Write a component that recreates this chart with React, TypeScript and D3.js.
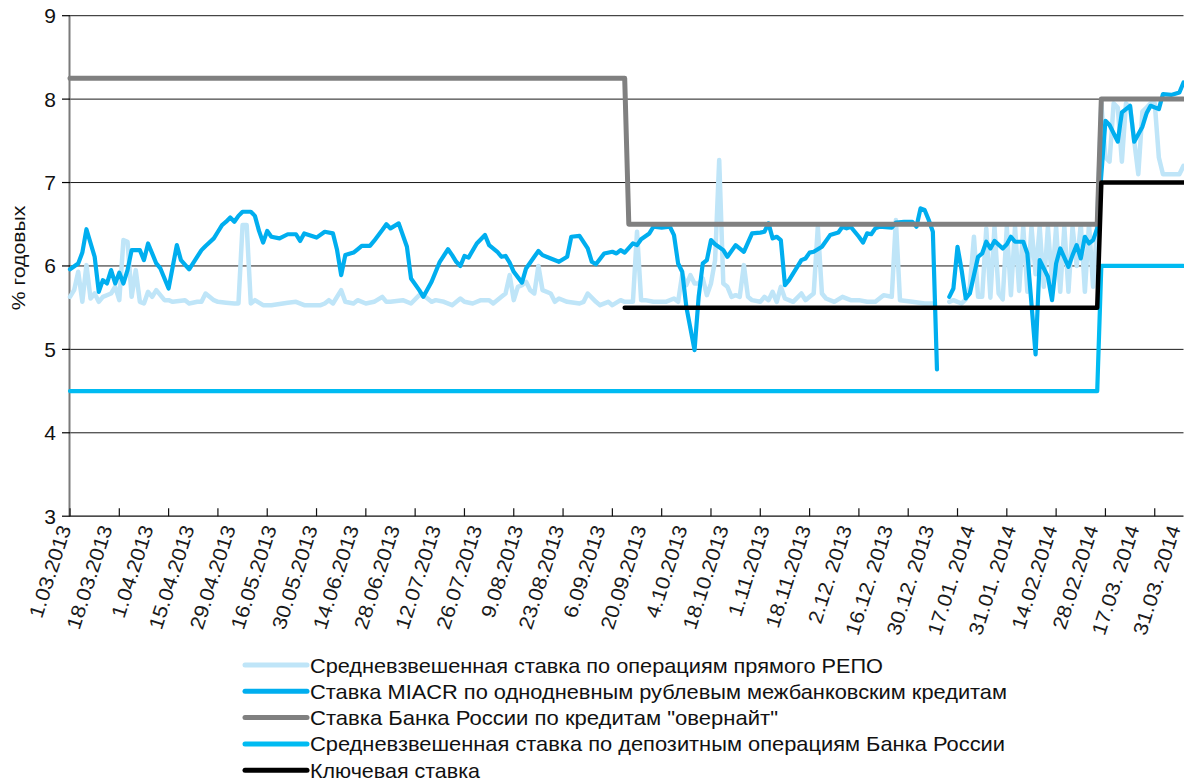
import React from "react";
import * as d3 from "d3";

const W = 1184;
const H = 782;

const xLabels = [
  "1.03.2013", "18.03.2013", "1.04.2013", "15.04.2013", "29.04.2013", "16.05.2013",
  "30.05.2013", "14.06.2013", "28.06.2013", "12.07.2013", "26.07.2013", "9.08.2013",
  "23.08.2013", "6.09.2013", "20.09.2013", "4.10.2013", "18.10.2013", "1.11.2013",
  "18.11.2013", "2.12. 2013", "16.12. 2013", "30.12. 2013", "17.01. 2014", "31.01. 2014",
  "14.02.2014", "28.02.2014", "17.03. 2014", "31.03. 2014",
];
const LABEL_STEP = 10;
const TICK_STEP = 12;
const N_CATS = 272;
const yTickValues = [3, 4, 5, 6, 7, 8, 9];

// Средневзвешенная ставка по операциям прямого РЕПО (business-day index, value)
const repoIdx = [
  0, 1, 2, 3, 4, 5, 6, 7, 8, 10, 11, 12, 13, 14, 15, 16, 17, 18, 19, 20, 21, 23, 24, 25, 28, 29, 31, 32, 33, 35,
  36, 38, 40, 41, 42, 43, 44, 45, 47, 49, 53, 55, 57, 61, 62, 63, 64, 66, 67, 69, 70, 72, 74, 76, 77, 78, 81, 83,
  85, 86, 88, 89, 91, 93, 95, 96, 98, 100, 102, 103, 105, 106, 107, 108, 109, 110, 111, 112, 113, 114, 115, 117,
  118, 119, 121, 124, 125, 126, 128, 129, 131, 132, 134, 135, 137, 138, 139, 140, 142, 145, 147, 148, 149, 150,
  151, 152, 153, 154, 155, 156, 157, 158, 159, 160, 161, 162, 163, 164, 165, 166, 168, 169, 170, 171, 172, 173,
  174, 175, 176, 178, 179, 180, 181, 182, 183, 184, 186, 188, 190, 192, 194, 196, 198, 200, 201, 202, 205, 208,
  210, 212, 214, 215, 216, 217, 218, 219, 220, 221, 222, 223, 224, 225, 226, 227, 228, 229, 230, 231, 232, 233,
  234, 235, 236, 237, 238, 239, 240, 241, 242, 243, 244, 245, 246, 247, 248, 249, 250, 251, 252, 253, 254, 255,
  256, 257, 258, 259, 260, 261, 262, 263, 264, 265, 266, 267, 268, 269, 270, 271,
];
const repoVal = [
  5.63, 5.71, 5.93, 5.57, 6.01, 5.61, 5.67, 5.57, 5.63, 5.67, 5.75, 5.59, 6.31, 6.29, 5.63, 5.95, 5.57, 5.55, 5.69,
  5.63, 5.71, 5.59, 5.59, 5.57, 5.59, 5.55, 5.57, 5.57, 5.67, 5.59, 5.57, 5.56, 5.55, 5.55, 6.49, 6.49, 5.55, 5.59,
  5.53, 5.53, 5.56, 5.57, 5.53, 5.53, 5.55, 5.59, 5.55, 5.71, 5.57, 5.55, 5.59, 5.55, 5.57, 5.63, 5.57, 5.57, 5.59,
  5.55, 5.65, 5.65, 5.57, 5.59, 5.57, 5.53, 5.61, 5.57, 5.55, 5.59, 5.59, 5.55, 5.63, 5.67, 5.89, 5.59, 5.75, 5.77,
  5.81, 5.71, 5.67, 6.0, 5.71, 5.67, 5.57, 5.61, 5.57, 5.55, 5.57, 5.67, 5.57, 5.53, 5.57, 5.53, 5.59, 5.57, 5.57,
  6.41, 5.59, 5.59, 5.57, 5.57, 5.61, 5.57, 5.9, 5.77, 5.89, 5.79, 5.79, 5.85, 5.65, 5.79, 6.07, 7.27, 5.79, 5.75,
  5.63, 5.65, 5.63, 6.01, 5.63, 5.59, 5.57, 5.63, 5.59, 5.69, 5.57, 5.75, 5.61, 5.59, 5.57, 5.67, 5.59, 5.63, 5.67,
  6.47, 5.67, 5.61, 5.57, 5.63, 5.59, 5.59, 5.57, 5.57, 5.65, 5.63, 6.55, 5.59, 5.57, 5.55, 5.55, null, 5.57, 5.59,
  5.57, 5.55, 5.6, 5.75, 6.35, 5.63, 5.63, 6.45, 5.62, 6.47, 5.67, 5.6, 6.47, 5.65, 6.47, 5.7, 6.47, 5.69, 6.47,
  5.9, 6.47, 5.75, 6.47, 5.8, 6.47, 5.69, 6.47, 5.69, 6.47, 6.0, 6.5, 5.69, 6.5, 5.75, 6.5, 7.95, 7.3, 7.25, 7.95,
  7.9, 7.25, 7.95, 7.9, 7.5, 7.1, 7.85, 7.9, 7.95, 7.95, 7.3, 7.1, 7.1, 7.1, 7.1, 7.1, 7.2,
];

// Ставка MIACR по однодневным рублевым межбанковским кредитам
const miacrIdx = [
  0, 2, 3, 4, 6, 7, 8, 9, 10, 11, 12, 13, 14, 15, 17, 18, 19, 21, 22, 24, 26, 27, 29, 32, 33, 35, 36, 37, 38, 39,
  40, 41, 42, 44, 45, 46, 47, 48, 49, 51, 53, 55, 56, 57, 60, 62, 64, 65, 66, 67, 69, 70, 71, 73, 74, 76, 77, 78,
  80, 82, 83, 85, 86, 88, 90, 92, 93, 94, 95, 96, 97, 99, 101, 102, 104, 105, 106, 107, 108, 110, 111, 113, 114,
  115, 117, 119, 121, 122, 124, 126, 127, 128, 130, 132, 133, 134, 135, 137, 138, 139, 141, 142, 144, 146, 147,
  148, 149, 150, 152, 153, 154, 155, 156, 157, 159, 160, 162, 164, 166, 168, 169, 170, 171, 172, 173, 174, 175,
  178, 179, 180, 181, 183, 185, 187, 188, 189, 190, 192, 193, 194, 195, 196, 197, 200, 201, 203, 205, 206, 207,
  208, 209, 210, 211, 212, 214, 215, 216, 217, 218, 219, 221, 222, 223, 224, 225, 227, 228, 229, 230, 232, 233,
  235, 236, 238, 239, 240, 241, 243, 244, 245, 246, 247, 248, 249, 250, 252, 253, 255, 256, 257, 258, 259, 261,
  262, 263, 265, 266, 268, 270, 271,
];
const miacrVal = [
  5.96, 6.03, 6.16, 6.44, 6.11, 5.69, 5.83, 5.79, 5.95, 5.79, 5.92, 5.79, 5.95, 6.19, 6.19, 6.07, 6.27, 6.03, 5.97,
  5.73, 6.25, 6.07, 5.96, 6.19, 6.24, 6.33, 6.41, 6.49, 6.53, 6.58, 6.53, 6.6, 6.65, 6.65, 6.6, 6.42, 6.28, 6.42,
  6.35, 6.33, 6.38, 6.38, 6.3, 6.39, 6.34, 6.41, 6.39, 6.19, 5.89, 6.13, 6.16, 6.2, 6.24, 6.24, 6.3, 6.43, 6.5,
  6.45, 6.51, 6.23, 5.85, 5.71, 5.63, 5.81, 6.05, 6.2, 6.13, 6.05, 6.0, 6.12, 6.1, 6.27, 6.37, 6.25, 6.17, 6.11,
  6.12, 6.04, 5.93, 5.8, 5.97, 6.11, 6.18, 6.13, 6.09, 6.05, 6.11, 6.35, 6.36, 6.21, 6.05, 6.02, 6.15, 6.17, 6.15,
  6.19, 6.16, 6.27, 6.25, 6.32, 6.39, 6.47, 6.46, 6.47, 6.37, 6.03, 5.93, 5.51, 4.99, 5.63, 6.03, 6.07, 6.31, 6.26,
  6.19, 6.11, 6.25, 6.17, 6.39, 6.4, 6.41, 6.51, 6.33, 6.35, 6.31, 5.77, 5.83, 6.07, 6.09, 6.16, 6.17, 6.23, 6.37,
  6.4, 6.47, 6.45, 6.47, 6.35, 6.28, 6.39, 6.38, 6.45, 6.47, 6.46, 6.52, 6.53, 6.53, 6.47, 6.69, 6.67, 6.55, 6.41,
  4.76, null, 5.63, 5.73, 6.23, 5.95, 5.61, 5.67, 6.11, 6.15, 6.29, 6.21, 6.3, 6.21, 6.26, 6.35, 6.29, 6.29, 6.15,
  4.94, 6.07, 5.87, 5.59, 6.03, 6.21, 5.99, 6.13, 6.25, 6.09, 6.35, 6.27, 6.31, 6.45, 7.74, 7.69, 7.49, 7.84, 7.88,
  7.92, 7.49, 7.67, 7.83, 7.92, 7.88, 8.06, 8.05, 8.08, 8.2,
];

// Ставка Банка России по кредитам "овернайт"
const overnightIdx = [0, 135, 136, 250, 251, 271];
const overnightVal = [8.25, 8.25, 6.5, 6.5, 8.0, 8.0];

// Средневзвешенная ставка по депозитным операциям Банка России
const depositIdx = [0, 250, 251, 271];
const depositVal = [4.5, 4.5, 6.0, 6.0];

// Ключевая ставка
const keyIdx = [135, 250, 251, 271];
const keyVal = [5.5, 5.5, 7.0, 7.0];

type Pt = [number, number | null];
const zip = (a: number[], b: (number | null)[]): Pt[] => a.map((v, i) => [v, b[i]]);

const seriesList = [
  { name: "Средневзвешенная ставка по операциям прямого РЕПО", data: zip(repoIdx, repoVal), color: "#bfe5f8", width: 4.5, legendW: 573 },
  { name: "Ставка MIACR по однодневным рублевым межбанковским кредитам", data: zip(miacrIdx, miacrVal), color: "#00aeef", width: 4.2, legendW: 697 },
  { name: "Ставка Банка России по кредитам \"овернайт\"", data: zip(overnightIdx, overnightVal), color: "#808080", width: 5, legendW: 468 },
  { name: "Средневзвешенная ставка по депозитным операциям Банка России", data: zip(depositIdx, depositVal), color: "#00bbf2", width: 4.2, legendW: 695 },
  { name: "Ключевая ставка", data: zip(keyIdx, keyVal), color: "#000000", width: 4.5, legendW: 170 },
];

const FONT = "'Liberation Sans', Arial, Helvetica, sans-serif";

export default function App() {
  const left = 70;
  const right = 1183.5;
  const top = 15.7;
  const bottom = 516.2;
  const x = d3.scaleLinear().domain([0, N_CATS - 1]).range([left, right]);
  const y = d3.scaleLinear().domain([3, 9]).range([bottom, top]);

  const line = d3
    .line<Pt>()
    .defined((d) => d[1] !== null)
    .x((d) => x(d[0]))
    .y((d) => y(d[1] as number));

  const tickIdx = d3.range(0, N_CATS, TICK_STEP);
  const labelIdx = xLabels.map((_, i) => i * LABEL_STEP);

  const legendX0 = 245;
  const legendX1 = 307;
  const legendTop = 665;
  const legendStep = 26.3;

  return (
    <svg
      width={W}
      height={H}
      style={{ position: "absolute", left: 0, top: 0, background: "#fff" }}
      fontFamily={FONT}
    >
      <rect x={0} y={0} width={W} height={H} fill="#fff" />
      {/* grid lines */}
      {yTickValues.slice(1).map((v) => (
        <line key={"g" + v} x1={left} x2={right} y1={y(v)} y2={y(v)} stroke="#1a1a1a" strokeWidth={1} />
      ))}
      {/* y axis */}
      <line x1={left - 0.5} x2={left - 0.5} y1={top} y2={bottom} stroke="#7a7a7a" strokeWidth={2} />
      {yTickValues.map((v) => (
        <g key={"yt" + v}>
          <line x1={left - 8} x2={left} y1={y(v)} y2={y(v)} stroke="#000" strokeWidth={1.2} />
          <text x={56} y={y(v) + 7.5} textAnchor="end" fontSize={21} fill="#111">
            {v}
          </text>
        </g>
      ))}
      {/* x axis */}
      <line x1={left} x2={right} y1={bottom} y2={bottom} stroke="#111" strokeWidth={1.2} />
      {tickIdx.map((i) => (
        <line key={"xt" + i} x1={x(i)} x2={x(i)} y1={bottom} y2={bottom - 8} stroke="#111" strokeWidth={1.2} />
      ))}
      {xLabels.map((lab, k) => {
        const xi = x(labelIdx[k]) + 1.5;
        const yi = 528;
        return (
          <text
            key={"xl" + k}
            x={0}
            y={0}
            textAnchor="end"
            fontSize={20}
            fill="#1a1a1a"
            transform={`translate(${xi} ${yi}) rotate(-72) scale(1.08 1)`}
          >
            {lab}
          </text>
        );
      })}
      {/* y title */}
      <text
        x={0}
        y={0}
        fontSize={18}
        fill="#111"
        textAnchor="middle"
        transform="translate(25 258) rotate(-90) scale(1.18 1)"
      >
        % годовых
      </text>
      {/* series */}
      {seriesList.map((s) => (
        <path
          key={s.name}
          d={line(s.data) || ""}
          fill="none"
          stroke={s.color}
          strokeWidth={s.width}
          strokeLinejoin="round"
          strokeLinecap="round"
        />
      ))}
      {/* legend */}
      {seriesList.map((s, i) => {
        const cy = legendTop + i * legendStep;
        return (
          <g key={"lg" + i}>
            <line x1={legendX0} x2={legendX1} y1={cy} y2={cy} stroke={s.color} strokeWidth={5} strokeLinecap="round" />
            <text
              x={legendX1 + 3}
              y={cy + 7.5}
              fontSize={21}
              fill="#111"
              textLength={s.legendW}
              lengthAdjust="spacingAndGlyphs"
            >
              {s.name}
            </text>
          </g>
        );
      })}
    </svg>
  );
}
